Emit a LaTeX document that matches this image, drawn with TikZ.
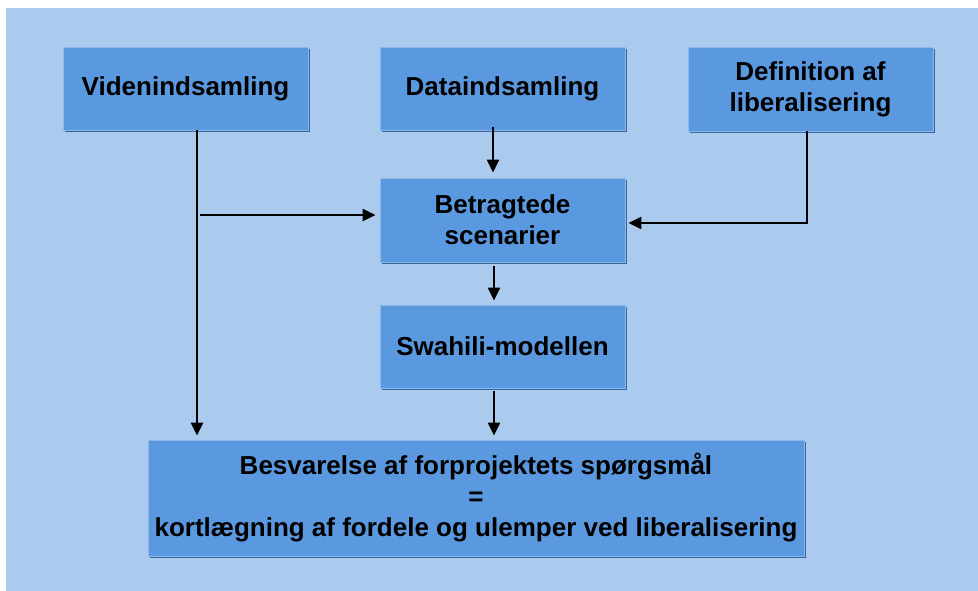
\documentclass[tikz,border=0pt]{standalone}
\usepackage{fontspec}
\setmainfont{Liberation Sans}
\usetikzlibrary{arrows.meta,shadows}
\definecolor{panelbg}{HTML}{ABCBEE}
\definecolor{boxfill}{HTML}{5A99DF}
\definecolor{boxshade}{HTML}{36659C}
\definecolor{boxlight}{HTML}{8DB8EA}
\begin{document}
\begin{tikzpicture}[x=1pt,y=-1pt,
  stepbox/.style={fill=boxfill, draw=boxlight, line width=0.8pt,
    general shadow={fill=boxshade, shadow xshift=2pt, shadow yshift=-2pt},
    align=center, inner sep=0pt,
    font=\fontsize{26}{31}\selectfont\bfseries},
  flow/.style={line width=2.2pt, -{Triangle[length=13pt,width=12pt]}}]
  % page and panel
  \fill[white] (0,0) rectangle (978,591);
  \useasboundingbox (0,0) rectangle (978,591);
  \fill[panelbg] (6,8) rectangle (978,591);

  % boxes
  \node[stepbox, minimum width=245pt, minimum height=83pt] (vid) at (185.5,88.5) {Videnindsamling};
  \node[stepbox, minimum width=245pt, minimum height=83pt] (dat) at (502.5,88.5) {Dataindsamling};
  \node[stepbox, minimum width=245pt, minimum height=84pt] (def) at (810.5,89) {Definition af\\liberalisering};
  \node[stepbox, minimum width=245pt, minimum height=84pt] (bet) at (502.5,220) {Betragtede\\scenarier};
  \node[stepbox, minimum width=245pt, minimum height=83pt] (swa) at (502.5,346.5) {Swahili-modellen};
  \node[stepbox, minimum width=656pt, minimum height=116pt] (bes) at (476,498)
    {Besvarelse af forprojektets spørgsmål\\=\\kortlægning af fordele og ulemper ved liberalisering};

  % connectors
  \draw[flow, shorten >=4pt] ([xshift=11.5pt]vid.south) -- ([xshift=11.5pt]vid.south |- bes.north);
  \coordinate (branch) at (200,215);
  \draw[flow, shorten >=4pt] (branch) -- (bet.west |- branch);
  \draw[flow, shorten <=-3pt, shorten >=5pt] ([xshift=-9.5pt]dat.south) -- ([xshift=-9.5pt]bet.north);
  \draw[flow, shorten >=3pt] ([xshift=-3.5pt]def.south) |- ([yshift=-3pt]bet.east);
  \draw[flow, shorten <=4pt, shorten >=4pt] ([xshift=-8.5pt]bet.south) -- ([xshift=-8.5pt]swa.north);
  \draw[flow, shorten <=3pt, shorten >=4pt] ([xshift=-8.5pt]swa.south) -- ([xshift=18pt]bes.north);
\end{tikzpicture}
\end{document}
